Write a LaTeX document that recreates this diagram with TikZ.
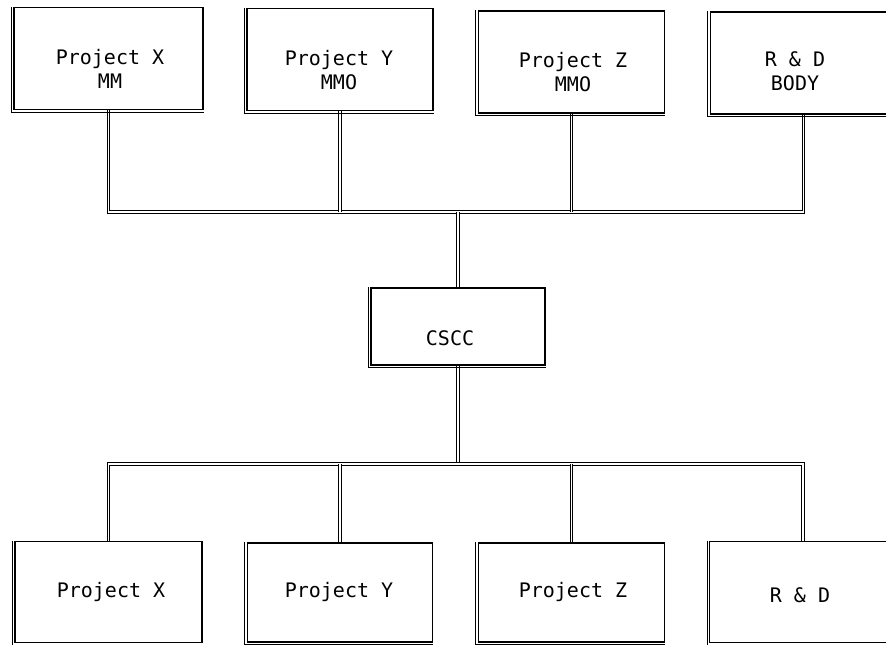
\documentclass[tikz,border=0pt]{standalone}
\usepackage{fontspec}
\setmonofont{DejaVu Sans Mono}
\usetikzlibrary{calc}
\begin{document}
\begin{tikzpicture}[x=0.75pt,y=-0.75pt,
  unit/.style={draw=black, line width=0.8pt, fill=white, inner sep=0pt,
               minimum width=140pt, minimum height=76.5pt},
  lbl/.style={font=\fontsize{15}{18}\selectfont\ttfamily, align=center, inner sep=0pt},
  conn/.style={draw=black, line width=0.8pt, double=white, double distance=0.8pt},
  edgeshadow/.style={draw=black, line width=0.7pt}
]
\useasboundingbox[fill=white] (0,0) rectangle (886,644);
\clip (0,0) rectangle (886,644);

% buses
\coordinate (tbus) at (0,212);
\coordinate (bbus) at (0,464);

% upper row of units
\node[unit, minimum width=141.75pt] (t1) at (108.5,58.5) {};
\node[unit, minimum width=139.5pt]  (t2) at (340,59.5) {};
\node[unit, minimum width=140pt]    (t3) at (571.5,62) {};
\node[unit, minimum width=140pt]    (t4) at (803.5,63) {};

% central committee
\node[unit, minimum width=130.5pt, minimum height=57.75pt] (cscc) at (458,326.5) {};

% lower row of units
\node[unit, minimum width=140.25pt, minimum height=75.75pt] (b1) at (108.5,592) {};
\node[unit, minimum width=138.75pt, minimum height=74.25pt] (b2) at (340,592.5) {};
\node[unit, minimum width=140pt,    minimum height=74.25pt] (b3) at (571.5,592.5) {};
\node[unit, minimum width=140pt,    minimum height=75.75pt] (b4) at (803,592) {};

% connectors
\draw[conn] (t1.south) -- (t1.south |- tbus) -- (t4.south |- tbus) -- (t4.south);
\draw[conn] (t2.south) -- (t2.south |- tbus);
\draw[conn] (t3.south) -- (t3.south |- tbus);
\draw[conn] (cscc.north) -- (cscc.north |- tbus);

\draw[conn] (cscc.south) -- (cscc.south |- bbus);
\draw[conn] (b1.north) -- (b1.north |- bbus) -- (b4.north |- bbus) -- (b4.north);
\draw[conn] (b2.north) -- (b2.north |- bbus);
\draw[conn] (b3.north) -- (b3.north |- bbus);

% offset strokes on the left and bottom edges of every box
\foreach \b in {t1,t2,t3,t4,cscc,b1,b2,b3,b4}{
  \draw[edgeshadow] ([xshift=-1.6pt]\b.north west) -- ([xshift=-1.6pt,yshift=-1.6pt]\b.south west)
               -- ([yshift=-1.6pt]\b.south east);
}

% labels
\node[lbl] (lt1) at (110,69)   {Project X\\MM};
\node[lbl] (lt2) at (339,70)   {Project Y\\MMO};
\node[lbl] (lt3) at (573,72)   {Project Z\\MMO};
\node[lbl] (lt4) at (795,71)   {R \& D\\BODY};
\node[lbl] (lc)  at (450,338)  {CSCC};
\node[lbl] (lb1) at (111,592)  {Project X};
\node[lbl] (lb2) at (339,592)  {Project Y};
\node[lbl] (lb3) at (573,592)  {Project Z};
\node[lbl] (lb4) at (800,595)  {R \& D};
\end{tikzpicture}
\end{document}
